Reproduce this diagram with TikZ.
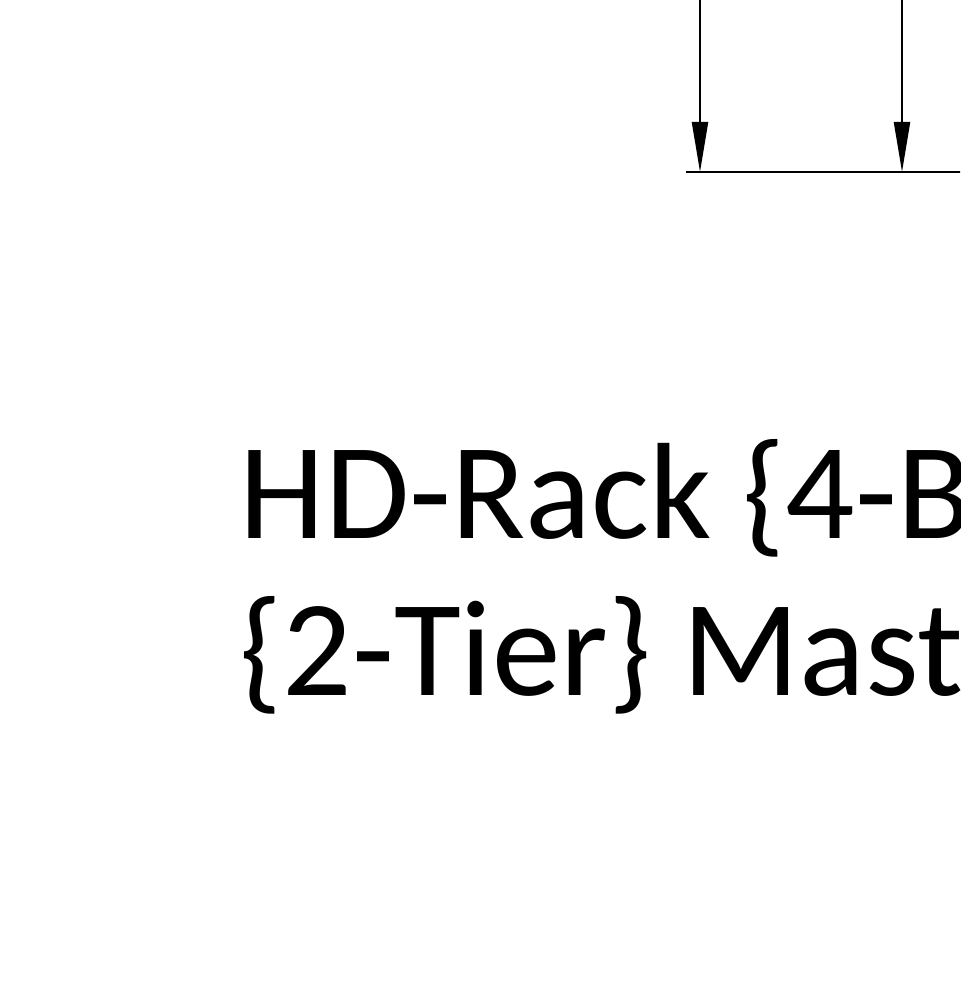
\documentclass[tikz,border=0pt]{standalone}
\usepackage{fontspec}
\setmainfont{Carlito}
\usetikzlibrary{arrows.meta}
\begin{document}
\begin{tikzpicture}[x=1cm,y=1cm,
  conn/.style={line width=0.6pt,draw=black},
  arr/.style={conn,-{Triangle[length=5mm,width=1.6mm]}},
  bigtext/.style={inner sep=0pt,anchor=base west,font=\fontsize{39pt}{45pt}\selectfont}]
\useasboundingbox (0,0) rectangle (9.6,9.81);
\clip (0,0) rectangle (9.6,9.81);
\fill[white] (0,0) rectangle (9.6,9.81);
% connectors
\coordinate (s1) at (7.00,9.85);
\coordinate (s2) at (9.02,9.85);
\coordinate (b1) at (7.00,8.09);
\coordinate (b2) at (9.02,8.09);
\coordinate (hl) at (6.86,8.09);
\coordinate (hr) at (9.65,8.09);
\draw[conn] (hl) -- (hr);
\draw[arr] (s1) -- (b1);
\draw[arr] (s2) -- (b2);
% text
\node[bigtext] (t1) at (2.39,4.42) {HD-Rack \{4-Bay\}};
\node[bigtext] (t2) at (2.39,2.85) {\{2-Tier\} Master};
\end{tikzpicture}
\end{document}
